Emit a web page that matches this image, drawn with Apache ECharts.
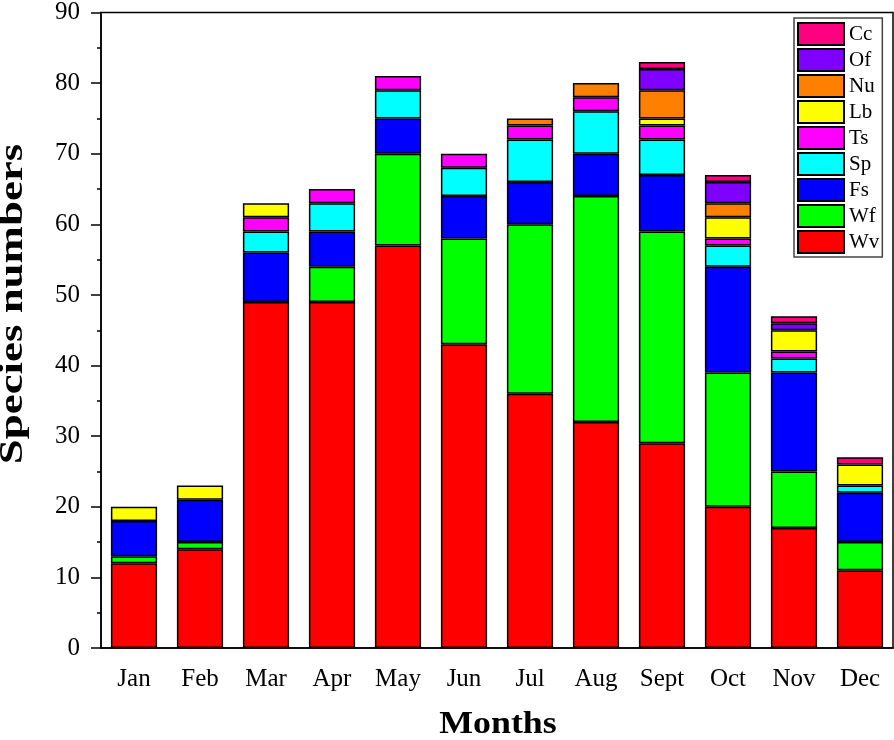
<!DOCTYPE html>
<html>
<head>
<meta charset="utf-8">
<script src="https://cdn.jsdelivr.net/npm/echarts@6/dist/echarts.min.js"></script>
<style>html,body{margin:0;padding:0;background:#fff;}#c{width:894px;height:740px;}</style>
</head>
<body>
<div id="c"></div>
<script>
const months = ['Jan','Feb','Mar','Apr','May','Jun','Jul','Aug','Sept','Oct','Nov','Dec'];
const Wv = [12,14,49,49,57,43,36,32,29,20,17,11];
const Wf = [1,1,0,5,13,15,24,32,30,19,8,4];
const Fs = [5,6,7,5,5,6,6,6,8,15,14,7];
const Sp = [0,0,3,4,4,4,6,6,5,3,2,1];
const Ts = [0,0,2,2,2,2,2,2,2,1,1,0];
const Lb = [2,2,2,0,0,0,0,0,1,3,3,3];
const Nu = [0,0,0,0,0,0,1,2,4,2,0,0];
const Of = [0,0,0,0,0,0,0,0,3,3,1,0];
const Cc = [0,0,0,0,0,0,0,0,1,1,1,1];
const yTicks = [0,10,20,30,40,50,60,70,80,90];
const xTitle = 'Months';
const yTitle = 'Species numbers';

const seriesDefs = [
  ['Wv', Wv, '#ff0000'],
  ['Wf', Wf, '#00ff00'],
  ['Fs', Fs, '#0000ff'],
  ['Sp', Sp, '#00ffff'],
  ['Ts', Ts, '#ff00ff'],
  ['Lb', Lb, '#ffff00'],
  ['Nu', Nu, '#ff8000'],
  ['Of', Of, '#8000ff'],
  ['Cc', Cc, '#ff0080']
];

const font = 'Liberation Serif';
const chart = echarts.init(document.getElementById('c'), null, {renderer: 'canvas'});
chart.setOption({
  backgroundColor: '#fff',
  animation: false,
  grid: {left: 101, right: 1, top: 12, bottom: 92, show: true, borderColor: '#000', borderWidth: 1.5, containLabel: false},
  legend: {
    orient: 'vertical',
    left: 794, top: 18,
    data: seriesDefs.map(s => s[0]).reverse(),
    itemWidth: 46, itemHeight: 22, itemGap: 2,
    padding: [4, 3, 3, 3],
    borderColor: '#444', borderWidth: 1.5,
    textStyle: {fontFamily: font, fontSize: 21, color: '#000'},
    icon: 'rect'
  },
  graphic: [
    {
      type: 'text', x: 13, y: 304, rotation: Math.PI / 2, scaleX: 1.36, scaleY: 1,
      style: {text: yTitle, fontFamily: font, fontSize: 33, fontWeight: 'bold', fill: '#000', align: 'center', verticalAlign: 'middle'}
    },
    {
      type: 'text', x: 498, y: 725, scaleX: 1.12, scaleY: 1,
      style: {text: xTitle, fontFamily: font, fontSize: 32, fontWeight: 'bold', fill: '#000', align: 'center', verticalAlign: 'middle'}
    }
  ],
  xAxis: [
    {
      type: 'category', data: months,
      axisLine: {lineStyle: {color: '#000', width: 1.5}},
      axisTick: {alignWithLabel: true, length: 10, lineStyle: {color: '#000', width: 1.5}},
      axisLabel: {fontFamily: font, fontSize: 25, color: '#000', margin: 19}
    },
    {
      type: 'category', data: months, position: 'bottom',
      axisLine: {show: false},
      axisTick: {alignWithLabel: false, length: 4, lineStyle: {color: '#000', width: 1.5}},
      axisLabel: {show: false}
    }
  ],
  yAxis: {
    type: 'value', min: 0, max: 90, interval: 10,
    axisLine: {show: true, lineStyle: {color: '#000', width: 1.5}},
    axisTick: {show: true, length: 10, lineStyle: {color: '#000', width: 1.5}},
    minorTick: {show: true, splitNumber: 2, length: 4, lineStyle: {color: '#000', width: 1.5}},
    splitLine: {show: false},
    axisLabel: {fontFamily: font, fontSize: 25, color: '#000', margin: 21,
      formatter: v => yTicks.includes(v) ? String(v) : ''}
  },
  series: seriesDefs.map(([name, vals, color]) => ({
    name, type: 'bar', stack: 'total', barWidth: '70%',
    data: vals.map(v => v === 0 ? null : v),
    itemStyle: {color, borderColor: '#000', borderWidth: 1.5}
  }))
});
</script>
</body>
</html>
